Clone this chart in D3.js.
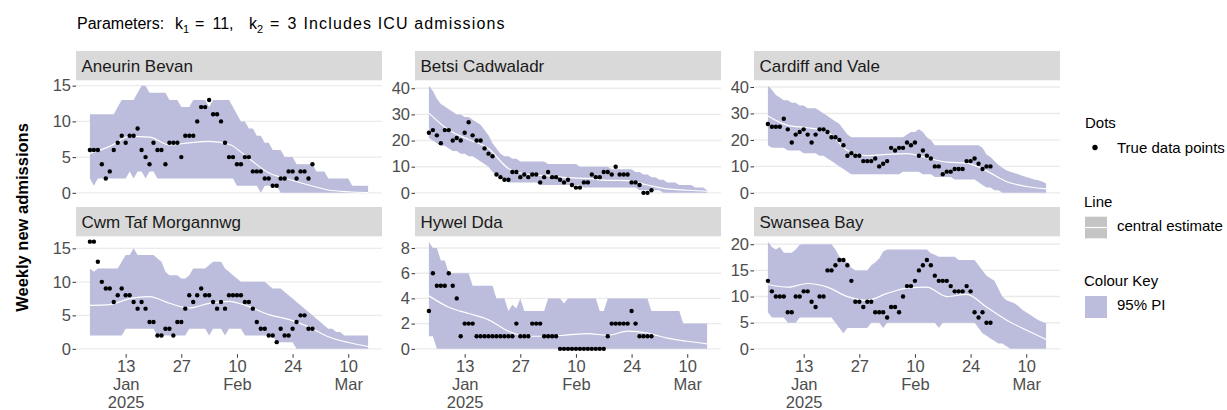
<!DOCTYPE html>
<html lang="en">
<head>
<meta charset="UTF-8">
<title>Weekly new admissions</title>
<style>
  body { margin: 0; background: #fff; }
  svg { display: block; font-family: "Liberation Sans", Arial, sans-serif; }
</style>
</head>
<body>
<script src="https://cdn.jsdelivr.net/npm/d3@7"></script>
<script>
// ---- data ----
// every daily series starts on 4 Jan 2025; ribbon runs to 15 Mar
var firstDate = '2025-01-04'
var centralStep = 5   // central estimate read every 5 days

var regions = ['Aneurin Bevan', 'Betsi Cadwaladr', 'Cardiff and Vale',
               'Cwm Taf Morgannwg', 'Hywel Dda', 'Swansea Bay']

var aneurinObs = [6,6,6,4,2,3,6,7,8,7,8,8,9,6,5,4,7,6,6,4,7,7,7,5,8,8,8,10,12,12,13,11,11,10,7,5,5,4,4,5,5,3,3,3,2,2,1,1,2,2,3,3,2,3,3,2,4]
var aneurinHigh = [11,11,11,11,11,11,11,12,13,13, 13,13,14,15,15,14,14,14,14,14,
  13,13,13,12,12,12,13,13,13,13, 12,13,13,13,13,13,12,11,10,10,
  9,9,8,8,7,7,6,6,6,5, 5,5,4,4,4,4,4,3,3,3, 2,2,2,2,2,2,1,1,1,1,1]
var aneurinLow = [2,1,2,2,2,2,2,2,2,2, 3,2,3,3,2,3,3,2,2,2, 2,2,2,2,2,2,2,2,2,2,
  2,2,2,2,2,2,2,1,1,1, 1,1,1,0,1,1,1,1,0,0, 0,0,0,0,0,0,0,0,0,0, 0,0,0,0,0,0,0,0,0,0,0]
var aneurinMid = [5.5,6.5,7.9,7.8,6.7,7.0,7.2,6.8,4.8,2.8,1.9,1.1,0.4,0.15,0.05]

var betsiObs = [23,24,22,19,24,24,20,21,20,23,27,22,20,20,17,15,14,7,6,5,5,8,8,6,7,6,7,7,4,6,8,6,6,5,4,5,3,2,2,4,4,7,6,6,8,8,7,10,7,7,7,4,4,3,0,0,1]
var betsiHigh = [41,39,36,34,33,32,31,30,30,29, 29,28,27,26,24,22,19,17,15,14,
  14,13,13,12,12,12,12,12,12,12, 11,11,11,11,11,11,11,11,10,10,
  10,10,10,10,10,10,9,9,9,9, 9,9,8,8,7,7,6,6,5,5, 4,4,4,3,3,3,3,2,2,2,1]
var betsiLow = [21,20,19,18,18,17,16,16,15,15, 14,14,13,12,11,10,8,7,6,5,
  4,4,4,4,4,4,4,4,3,3, 3,3,3,3,3,3,3,3,3,2, 2,2,2,2,2,2,2,2,2,2,
  2,2,2,1,1,1,1,1,1,0, 0,0,0,0,0,0,0,0,0,0,0]
var betsiMid = [30.5,24,20.4,17,9.3,7.1,6.5,5.8,5.5,4.8,4.7,3.0,1.5,1.0,0.6]

var cardiffObs = [26,25,25,25,28,24,19,22,23,24,22,19,22,24,24,23,21,21,20,18,14,15,14,14,12,12,12,13,10,11,12,17,16,17,17,19,18,19,14,16,14,13,10,10,7,8,8,9,9,9,12,12,13,11,9,10,10]
var cardiffHigh = [40.5,39,37,36,35,35,34,34,33,33, 32,32,32,31,30,29,28,27,26,24,
  22,21,21,21,21,21,21,21,21,21, 21,21,21,21,21,22,23,23,24,23,
  21,20,18,18,18,18,18,18,18,18, 18,18,18,18,17,14.5,13.5,12,10.5,9.5,
  8.5,8,7.5,7,6.5,6,5.5,5,4.8,4.3,3.5]
var cardiffLow = [18,17,17,17,17,16,16,16,16,15, 15,15,15,14,14,13,12,11,10,9,
  8,7,7,7,7,7,7,7,7,7, 7,7,7,7,8,8,8,8,8,7, 7,7,6,6,6,6,6,5,5,5,
  5,5,5,4,3,2,2,1,1,0, 0,0,0,0,0,0,0,0,0,0,0]
var cardiffMid = [29,25.5,24.6,23,16,14.1,14.5,14.8,13.2,11.6,11.2,8.3,4.3,2.4,1.5]

var cwmObs = [16,16,13,10,9,9,7,8,9,8,8,7,6,7,6,4,4,2,2,3,3,2,4,4,6,8,7,8,9,8,8,7,6,7,6,8,8,8,8,7,7,6,4,3,3,2,2,1,3,2,2,3,4,5,5,3,3]
var cwmHigh = [12,11.5,12,12,12,12,12,12,13,14, 14,15,14,14,14,14,14,13.5,13,11.5,
  11,11,11,10.5,10.5,11,12,12,12,12, 12.5,13,13,13,12,11.5,11,10.5,10,10,
  10,10,10,10,10,9.5,9,9,9,8.5, 8,7.5,7,6.5,6,5.5,5,4.5,4,3.5,
  3,3,2.5,2.5,2,2,2,2,2,2,2]
var cwmLow = [2,2,2,2,2,2,2,2,2,3, 3,3,3,3,3,3,3,2,2,2, 2,2,2,2,2,3,3,3,3,3,
  2,3,3,3,2,3,3,3,3,2, 2,2,2,2,2,2,2,1,1,1, 1,1,0,0,0,0,0,0,0,0,
  0,0,0,0,0,0,0,0,0,0,0]
var cwmMid = [6.5,6.6,7.5,7.8,6.8,6.1,6.8,7.1,6.3,5.1,4.4,3.3,1.8,0.95,0.35]

var hywelObs = [3,6,5,5,5,6,5,4,1,2,2,2,1,1,1,1,1,1,1,1,1,1,2,1,1,1,2,2,2,1,1,1,1,0,0,0,0,0,0,0,0,0,0,0,0,1,2,2,2,2,2,3,2,1,1,1,1]
var hywelHigh = [8.5,8,8,7,7,6,6,6,6,6, 6,5,5,5,5,5,5,4,4,4,
  3,3.5,3.2,4,3,3,3,3,3,3, 4,4,4,4,3.6,4,4,4,4,4, 4,4,4,3,3,4,4,4,4,4,
  4,4,4,4,4,4,3,3,3,3, 3,3,3,3,2,2,2,2,2,2,2]
var hywelLow = [1,1,0,0,0,0,0,0,0,0, 0,0,0,0,0,0,0,0,0,0, 0,0,0,0,0,0,0,0,0,0,
  0,0,0,0,0,0,0,0,0,0, 0,0,0,0,0,0,0,0,0,0, 0,0,0,0,0,0,0,0,0,0,
  0,0,0,0,0,0,0,0,0,0,0]
var hywelMid = [4.2,3.3,2.8,2.3,1.4,1.0,1.0,1.1,1.2,1.07,1.4,1.25,0.85,0.6,0.4]

var swanseaObs = [13,11,10,10,10,7,7,10,10,11,11,9,8,10,10,15,15,16,17,17,16,13,9,9,8,9,9,7,7,7,6,8,8,7,10,12,12,13,15,16,17,16,14,13,13,13,12,11,11,11,12,11,7,6,7,5,5]
var swanseaHigh = [20.5,19.5,19,19.5,18.4,18.4,18.4,19,19.9,20, 20,20,20,20,20,20,20,19,17.6,17,
  16.5,15.5,15,15,15,15,16,16.5,17.3,18.6, 19,19,19,19,19,19,19,19,19,19,
  19,18.3,18,17.6,17.6,17.6,17.6,17.6,17,17, 17,17,17,16,15,14,13.5,13,11.5,10,
  9.3,9,8.7,8.2,7.5,7,6.5,6,5.5,5.2,4.9]
var swanseaLow = [7,6,6,6,6,5,5,5,6,6, 6,6,6,6,6,6,6,5,4,3, 4,4,4,4,4,4,5,5,5,4,
  5,5,5,5,5,5,5,5,5,5, 5,5,5,4,5,5,5,5,5,5, 5,5,5,4,3,2.5,2,1.5,1,1,
  0.5,0,0,0,0,0,0,0,0,0,0]
var swanseaMid = [12.3,11.8,12.5,11.8,10,9.3,10.6,11.6,11.8,10,10.4,8,5.5,3.6,1.8]

var xTickDates = ['2025-01-13', '2025-01-27', '2025-02-10', '2025-02-24', '2025-03-10']
var xTickLabels = [['13', 'Jan', '2025'], ['27'], ['10', 'Feb'], ['24'], ['10', 'Mar']]

// ---- layout ----
var width = 1227, height = 410
var colX = [76, 415, 754], panelW = 306
var rowY = [51, 207], stripH = 29.3, panelH = 117.9
var xPad = panelW * 0.05 / 1.1
var ribbonColor = '#bcbddc'

var parseDay = d3.timeParse('%Y-%m-%d')
var day0 = parseDay(firstDate)
function dayOf(i) { return d3.timeDay.offset(day0, i) }

var panels = [
  {obs: aneurinObs, low: aneurinLow, high: aneurinHigh, mid: aneurinMid},
  {obs: betsiObs, low: betsiLow, high: betsiHigh, mid: betsiMid},
  {obs: cardiffObs, low: cardiffLow, high: cardiffHigh, mid: cardiffMid},
  {obs: cwmObs, low: cwmLow, high: cwmHigh, mid: cwmMid},
  {obs: hywelObs, low: hywelLow, high: hywelHigh, mid: hywelMid},
  {obs: swanseaObs, low: swanseaLow, high: swanseaHigh, mid: swanseaMid}
]
panels.forEach(function(p, i) { p.name = regions[i] })

var svg = d3.select('body').append('svg').attr('width', width).attr('height', height)

// title (plotmath-like spacing)
var title = svg.append('text').attr('y', 29).attr('font-size', 16).attr('fill', '#000')
title.append('tspan').attr('x', 77).text('Parameters:')
title.append('tspan').attr('x', 175).text('k')
title.append('tspan').attr('dy', 4).attr('font-size', 11).text('1')
title.append('tspan').attr('dy', -4).attr('x', 195).text('=')
title.append('tspan').attr('x', 212.5).text('11,')
title.append('tspan').attr('x', 249).text('k')
title.append('tspan').attr('dy', 4).attr('font-size', 11).text('2')
title.append('tspan').attr('dy', -4).attr('x', 270).text('=')
title.append('tspan').attr('x', 287.5).text('3')
svg.append('text').attr('x', 303.5).attr('y', 29).attr('font-size', 16)
  .attr('textLength', 201).attr('lengthAdjust', 'spacing')
  .text('Includes ICU admissions')

// y axis title
svg.append('text')
  .attr('transform', 'translate(28,217.5) rotate(-90)')
  .attr('text-anchor', 'middle')
  .attr('font-size', 16.5).attr('font-weight', 'bold')
  .text('Weekly new admissions')

panels.forEach(function(p, i) {
  var col = i % 3, row = Math.floor(i / 3)
  var left = colX[col], top = rowY[row] + stripH, bottom = top + panelH
  var x = d3.scaleTime()
    .domain([day0, dayOf(p.high.length - 1)])
    .range([left + xPad, left + panelW - xPad])
  var all = p.obs.concat(p.low, p.high, p.mid)
  var lo = d3.min(all), hi = d3.max(all), e = (hi - lo) * 0.05
  var y = d3.scaleLinear().domain([lo - e, hi + e]).range([bottom, top])
  var g = svg.append('g')

  // strip
  g.append('rect').attr('x', left).attr('y', rowY[row]).attr('width', panelW).attr('height', stripH)
    .attr('fill', '#d9d9d9')
  g.append('text').attr('x', left + 5.5).attr('y', rowY[row] + 21)
    .attr('font-size', 17).attr('fill', '#1a1a1a').text(p.name)

  // grid
  var yt = y.ticks(4)
  g.append('g').selectAll('line').data(yt).enter().append('line')
    .attr('x1', left).attr('x2', left + panelW)
    .attr('y1', function(d) { return y(d) }).attr('y2', function(d) { return y(d) })
    .attr('stroke', '#ebebeb').attr('stroke-width', 1.4)

  // 95% PI ribbon
  var area = d3.area()
    .x(function(d, j) { return x(dayOf(j)) })
    .y0(function(d, j) { return y(p.low[j]) })
    .y1(function(d) { return y(d) })
  g.append('path').datum(p.high).attr('d', area).attr('fill', ribbonColor)

  // central estimate
  var line = d3.line().curve(d3.curveMonotoneX)
    .x(function(d, j) { return x(dayOf(j * centralStep)) })
    .y(function(d) { return y(d) })
  g.append('path').datum(p.mid).attr('d', line)
    .attr('fill', 'none').attr('stroke', '#fff').attr('stroke-width', 1.2)

  // true data points
  g.append('g').selectAll('circle').data(p.obs).enter().append('circle')
    .attr('cx', function(d, j) { return x(dayOf(j)) })
    .attr('cy', function(d) { return y(d) })
    .attr('r', 2.2).attr('fill', '#000')

  // y axis
  var ya = g.append('g').attr('transform', 'translate(' + left + ',0)')
    .call(d3.axisLeft(y).tickValues(yt).tickSize(3.5).tickPadding(1.5))
  ya.select('.domain').remove()
  ya.selectAll('line').attr('stroke', '#333')
  ya.selectAll('text').attr('font-size', 16.5).attr('fill', '#4d4d4d')
    .attr('font-family', '"Liberation Sans", Arial, sans-serif')

  // x axis (bottom row only)
  if (row === 1) {
    var xa = g.append('g').attr('transform', 'translate(0,' + bottom + ')')
      .call(d3.axisBottom(x).tickValues(xTickDates.map(parseDay)).tickSize(3.5).tickFormat(function() { return '' }))
    xa.select('.domain').remove()
    xa.selectAll('line').attr('stroke', '#333')
    xa.selectAll('.tick text')
      .attr('y', 0).attr('dy', null)
      .attr('font-size', 16.5).attr('fill', '#4d4d4d')
      .attr('font-family', '"Liberation Sans", Arial, sans-serif')
      .each(function(d, k) {
        d3.select(this).selectAll('tspan').data(xTickLabels[k]).enter().append('tspan')
          .attr('x', 0).attr('y', function(s, n) { return 17.5 + n * 18.2 })
          .text(function(s) { return s })
      })
  }
})

// legend
var lg = svg.append('g').attr('font-size', 15).attr('fill', '#000')
lg.append('text').attr('x', 1085).attr('y', 127.5).text('Dots')
lg.append('circle').attr('cx', 1095).attr('cy', 147.5).attr('r', 2.7).attr('fill', '#000')
lg.append('text').attr('x', 1117).attr('y', 153.3).text('True data points')

lg.append('text').attr('x', 1084).attr('y', 207.3).text('Line')
lg.append('rect').attr('x', 1085).attr('y', 216.7).attr('width', 22).attr('height', 21.6).attr('fill', '#c4c4c4')
lg.append('line').attr('x1', 1085).attr('x2', 1107).attr('y1', 227.5).attr('y2', 227.5)
  .attr('stroke', '#fff').attr('stroke-width', 1.3)
lg.append('text').attr('x', 1117).attr('y', 230.7).text('central estimate')

lg.append('text').attr('x', 1084).attr('y', 286).text('Colour Key')
lg.append('rect').attr('x', 1085).attr('y', 296).attr('width', 22).attr('height', 22).attr('fill', ribbonColor)
lg.append('text').attr('x', 1117).attr('y', 310).text('95% PI')
</script>
</body>
</html>
